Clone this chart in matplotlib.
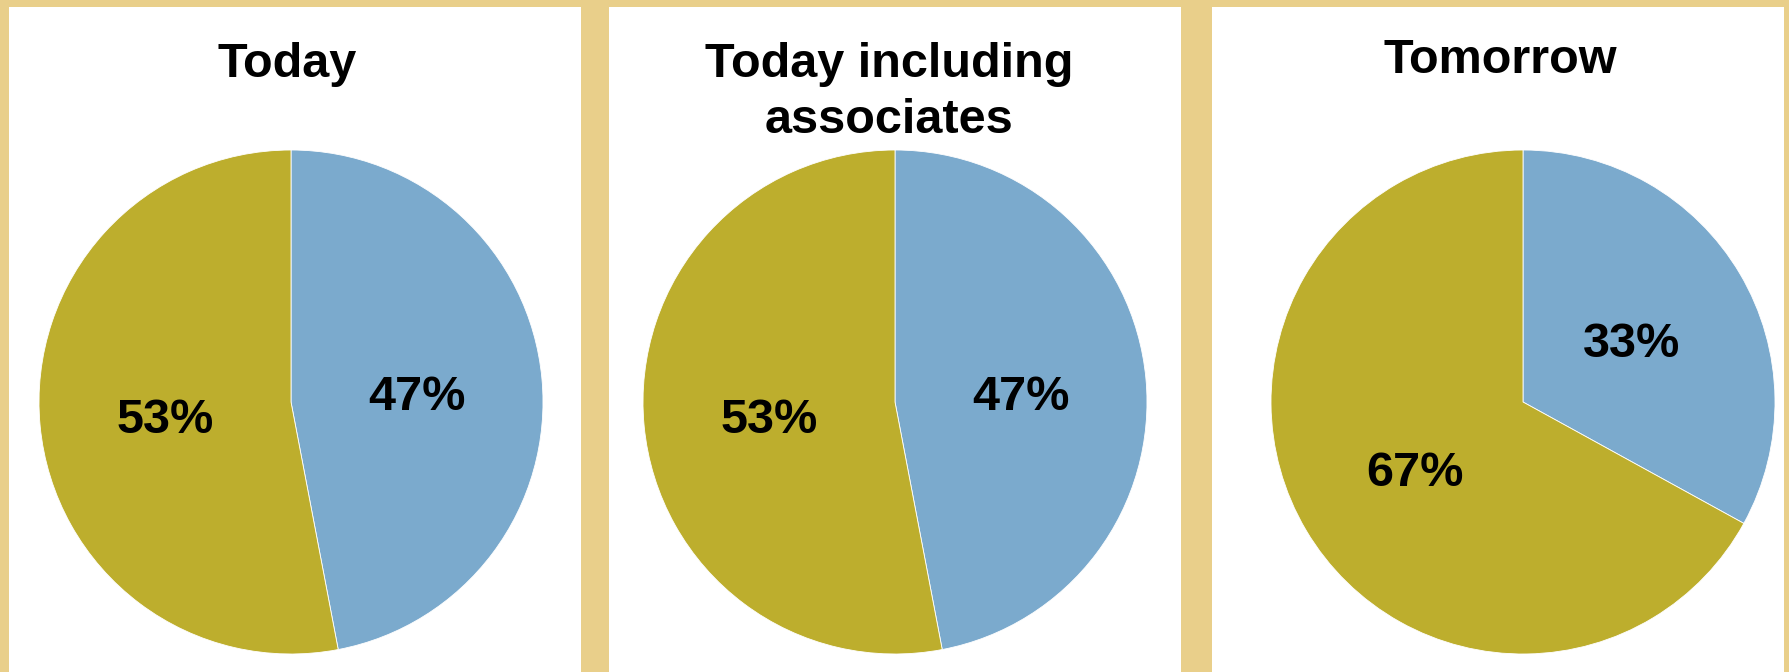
"""
Three pie charts on a parchment background: Today / Today including associates / Tomorrow
"""

import matplotlib
matplotlib.use("Agg")
import matplotlib.pyplot as plt
from matplotlib.patches import Rectangle

# =========================================================
# DATA
# =========================================================
titles = [["Today"], ["Today including", "associates"], ["Tomorrow"]]
blue_share = [47, 47, 33]
olive_share = [53, 53, 67]

# =========================================================
# STYLE / LAYOUT (pixels on a 1789 x 672 canvas)
# =========================================================
W, H = 1789, 672
BG = "#E9CF8A"
BLUE = "#7BAACD"
OLIVE = "#BDAE2D"
FONT = "Liberation Sans"

panel_left = [9, 609, 1212]
panel_width = 572
panel_top = 7

pie_cx = [291, 895, 1523]
pie_cy = 402
pie_r = 252
label_drop = 7  # px, labels sit a little lower than the bbox centre

title_cx = [287, 889, 1500]
title_base = [77, 77, 73]
title_step = 56

plt.rcParams["font.family"] = [FONT, "DejaVu Sans"]

fig = plt.figure(figsize=(W / 100, H / 100), dpi=100)
fig.patch.set_facecolor(BG)

# white panels (behind the pies)
for left in panel_left:
    fig.patches.append(Rectangle((left / W, 0), panel_width / W, (H - panel_top) / H,
                                 transform=fig.transFigure, facecolor="white",
                                 edgecolor="none", zorder=-5))

for i in range(3):
    # titles
    for j, line in enumerate(titles[i]):
        y = H - (title_base[i] + j * title_step)
        fig.text(title_cx[i] / W, y / H, line, ha="center", va="baseline",
                 fontsize=35, fontweight="bold", color="black")

    # pies
    ax = fig.add_axes([(pie_cx[i] - pie_r) / W, (H - pie_cy - pie_r) / H,
                       2 * pie_r / W, 2 * pie_r / H])
    ax.set_zorder(2)
    wedges, texts, autotexts = ax.pie(
        [blue_share[i], olive_share[i]], colors=[BLUE, OLIVE],
        startangle=90, counterclock=False, radius=1,
        autopct="%1.0f%%", pctdistance=0.5,
        wedgeprops=dict(linewidth=0.6, edgecolor="white"),
        textprops=dict(fontsize=35, fontweight="bold", color="black"))
    for t in autotexts:
        x, y = t.get_position()
        t.set_position((x, y - label_drop / pie_r))
    ax.set_xlim(-1, 1)
    ax.set_ylim(-1, 1)
    ax.set_aspect("equal")
    ax.axis("off")

plt.savefig("out.png", dpi=100, facecolor=BG)
